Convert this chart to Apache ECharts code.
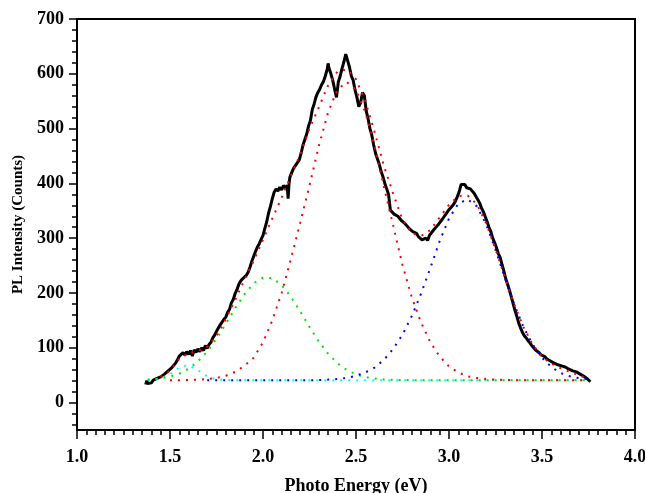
<!DOCTYPE html>
<html><head><meta charset="utf-8">
<script src="https://cdn.jsdelivr.net/npm/echarts@6/dist/echarts.min.js"></script>
<style>html,body{margin:0;padding:0;background:#fff}#c{width:645px;height:493px}</style>
</head><body><div id="c"></div>
<script>
const measEnergy = [1.370,1.375,1.380,1.390,1.400,1.410,1.420,1.430,1.440,1.450,1.460,1.470,1.480,1.490,1.500,1.510,1.520,1.530,1.540,1.550,1.560,1.570,1.580,1.590,1.600,1.610,1.620,1.630,1.640,1.650,1.660,1.670,1.680,1.690,1.700,1.710,1.720,1.730,1.740,1.750,1.760,1.770,1.780,1.790,1.800,1.810,1.820,1.830,1.840,1.850,1.860,1.870,1.880,1.890,1.900,1.910,1.920,1.930,1.940,1.950,1.960,1.970,1.980,1.990,2.000,2.010,2.020,2.030,2.040,2.050,2.060,2.070,2.080,2.090,2.100,2.110,2.120,2.130,2.135,2.140,2.145,2.155,2.165,2.175,2.185,2.195,2.205,2.215,2.225,2.235,2.245,2.255,2.265,2.275,2.285,2.295,2.305,2.315,2.325,2.335,2.345,2.350,2.355,2.365,2.375,2.385,2.395,2.405,2.415,2.425,2.435,2.445,2.455,2.465,2.475,2.485,2.495,2.505,2.515,2.525,2.535,2.545,2.555,2.565,2.575,2.585,2.595,2.605,2.615,2.625,2.635,2.645,2.655,2.665,2.675,2.680,2.685,2.695,2.705,2.715,2.725,2.735,2.745,2.755,2.765,2.775,2.785,2.795,2.805,2.815,2.825,2.835,2.845,2.855,2.865,2.875,2.885,2.895,2.905,2.915,2.925,2.935,2.945,2.955,2.965,2.975,2.985,2.995,3.005,3.015,3.025,3.035,3.045,3.055,3.065,3.075,3.085,3.095,3.105,3.115,3.125,3.135,3.145,3.155,3.165,3.175,3.185,3.195,3.205,3.215,3.225,3.235,3.245,3.255,3.265,3.275,3.285,3.295,3.305,3.315,3.325,3.335,3.345,3.355,3.365,3.375,3.385,3.395,3.405,3.415,3.425,3.435,3.445,3.455,3.465,3.475,3.485,3.495,3.505,3.515,3.525,3.535,3.545,3.555,3.565,3.575,3.585,3.595,3.605,3.615,3.625,3.635,3.645,3.655,3.665,3.675,3.685,3.695,3.705,3.715,3.725,3.735,3.745,3.755,3.760];
const measCounts = [33,40,35,38,36,41,39,44,41,47,46,52,51,58,57,64,63,72,78,85,82,91,87,93,88,95,85,96,92,98,93,100,95,104,99,106,110,118,123,130,133,142,145,152,156,165,170,182,188,199,206,216,222,226,229,232,238,247,258,267,276,284,290,298,305,318,330,346,358,372,384,390,386,393,388,396,392,396,372,400,412,420,428,433,438,443,455,470,480,490,505,515,535,545,558,566,572,580,586,596,608,619,610,600,588,572,557,585,596,610,622,636,624,612,596,588,570,557,540,548,566,560,532,518,500,488,470,455,445,435,422,412,400,390,380,365,351,348,344,346,340,337,332,333,326,322,318,320,312,310,309,303,305,297,294,300,296,305,308,314,318,322,326,328,335,340,345,350,352,358,362,368,376,385,398,395,398,392,394,390,391,382,376,370,364,355,348,339,330,320,312,300,292,283,272,265,252,240,226,216,205,193,180,168,157,145,136,128,122,118,113,109,104,100,96,93,91,87,85,84,80,79,76,74,72,71,69,70,67,67,65,64,61,60,58,57,56,54,52,51,48,47,43,40,38];

// Fitted components
const fitEnergy = [1.38,1.40,1.45,1.50,1.55,1.60,1.65,1.70,1.75,1.80,1.85,1.90,1.95,2.00,2.05,2.10,2.15,2.20,2.25,2.30,2.35,2.40,2.45,2.50,2.55,2.60,2.65,2.70,2.75,2.80,2.85,2.90,2.95,3.00,3.05,3.10,3.15,3.20,3.25,3.30,3.35,3.40,3.45,3.50,3.55,3.60,3.65,3.70,3.74];
const cyanFit  = [41,41.4,43.7,51.7,64.2,68.7,59.3,47.7,42.3,41.2,41,41,41,41,41,41,41,41,41,41,41,41,41,41,41,41,41,41,41,41,41,41,41,41,41,41,41,41,41,41,41,41,41,41,41,41,41,41,41];
const greenFit = [42.1,42.5,44.2,47.4,52.9,61.7,75,93.3,116.6,143.6,172,198,217.7,228,227,214.5,193.3,166.4,138,111.5,89.2,71.9,59.6,51.5,46.6,43.8,42.3,41.6,41.3,41,41,41,41,41,41,41,41,41,41,41,41,41,41,41,41,41,41,41,41];
const redFit   = [null,null,null,41,41,41.2,41.7,43,45,49,56,67,82,110,150,200,262,328,396,468,530,571,585,571,530,468,394,323,251,192,146,110,84,66,55,48,45,43,42,41.5,41,41,41,41,41,41,41,41,41];
const blueFit  = [null,null,null,null,null,null,null,41,41,41,41,41,41,41,41,41,41,41,41,41,42,43,45,49,55,64,78,98,124,158,199,246,295,336,363,371,358,325,279,228,180,138,106,82,65,54,48,44.5,43];
const totalFit = [null,null,47,58,80,90,94,102,122,152,187,224,259,297,336,374,414,453,500,539,579,604,608,590,550,494,432,381,334,309,304,315,338,361,377,378,362,327,280,229,180,138,106,84,71,63,56,50,44];

const xTickLabels = [1.0,1.5,2.0,2.5,3.0,3.5,4.0];
const yTickLabels = [0,100,200,300,400,500,600,700];

const yMinor = [];
for (let v = -40; v <= 680; v += 20) if (v % 100 !== 0) yMinor.push(v);

const font = {fontFamily:'Liberation Serif', fontWeight:'bold', color:'#000'};
const pair = arr => fitEnergy.map((x,i)=>[x,arr[i]]);
const dotted = (arr,color) => ({
  type:'line', data:pair(arr), showSymbol:false, symbol:'none', connectNulls:false,
  lineStyle:{color:color, width:2, type:[2,6]}, silent:true, animation:false
});

const chart = echarts.init(document.getElementById('c'), null, {renderer:'canvas'});
chart.setOption({
  animation:false,
  backgroundColor:'#fff',
  grid:{left:77, right:10, top:19, bottom:63, show:true, borderColor:'#000', borderWidth:2,
        containLabel:false, outerBoundsMode:'none'},
  xAxis:{
    type:'value', min:1, max:4, interval:0.5,
    name:'Photo Energy (eV)', nameLocation:'middle', nameGap:47,
    nameTextStyle:Object.assign({fontSize:18}, font),
    axisLine:{show:true, onZero:false, lineStyle:{color:'#000', width:2}},
    axisTick:{show:true, length:9, lineStyle:{color:'#000', width:1.5}},
    minorTick:{show:true, splitNumber:10, length:5, lineStyle:{color:'#000', width:1.5}},
    axisLabel:Object.assign({fontSize:18, margin:18, formatter:v=>xTickLabels.includes(+v.toFixed(1)) ? v.toFixed(1) : ''}, font),
    splitLine:{show:false}
  },
  yAxis:[{
    type:'value', min:-50, max:700,
    name:'PL Intensity (Counts)', nameLocation:'middle', nameGap:50, nameRotate:90,
    nameTextStyle:Object.assign({fontSize:15}, font),
    axisLine:{show:true, onZero:false, lineStyle:{color:'#000', width:2}},
    axisTick:{show:true, length:8, customValues:yTickLabels, lineStyle:{color:'#000', width:1.5}},
    axisLabel:Object.assign({fontSize:18, margin:13, customValues:yTickLabels}, font),
    splitLine:{show:false}
  },{
    type:'value', min:-50, max:700, position:'left',
    axisLine:{show:false},
    axisTick:{show:true, length:5, customValues:yMinor, lineStyle:{color:'#000', width:1.5}},
    axisLabel:{show:false, customValues:yMinor},
    splitLine:{show:false}
  }],
  series:[
    {type:'line', data:measEnergy.map((x,i)=>[x,measCounts[i]]), showSymbol:false, symbol:'none',
     lineStyle:{color:'#000', width:3}, silent:true},
    dotted(cyanFit,'#00ffff'),
    dotted(greenFit,'#00e400'),
    dotted(blueFit,'#0000ff'),
    dotted(redFit,'#ff0000'),
    dotted(totalFit,'#ff0000')
  ]
});
</script></body></html>
